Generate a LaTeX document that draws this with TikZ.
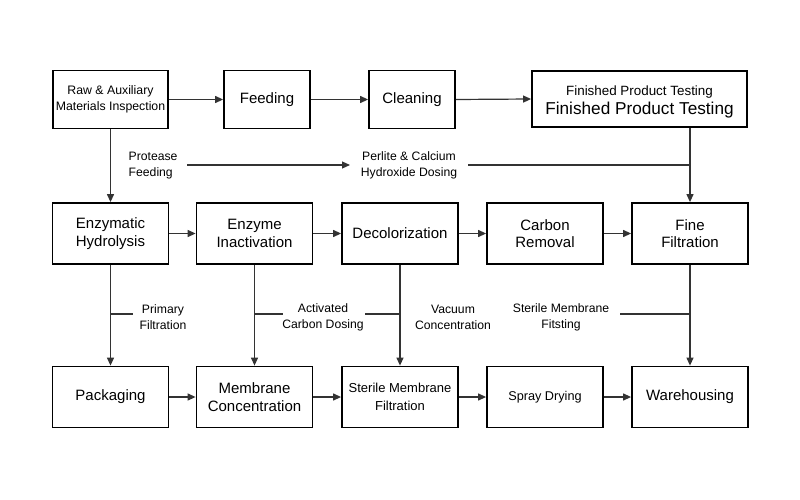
\documentclass[tikz,border=0pt]{standalone}
\usepackage{fontspec}
\setmainfont{Liberation Sans}
\usetikzlibrary{arrows.meta}
\begin{document}
\begin{tikzpicture}[x=1pt,y=-1pt,
  procbox/.style={draw=black,line width=1.8pt,rectangle,minimum width=116pt,minimum height=61pt,inner sep=2pt,align=center,font=\fontsize{15}{17.5}\selectfont},
  smallbox/.style={procbox,font=\fontsize{12.3}{16}\selectfont},
  lbl/.style={inner sep=0pt,align=center,font=\fontsize{12.2}{16}\selectfont},
  flow/.style={line width=1.2pt,draw=black!80,-{Triangle[length=8pt,width=7pt]}},
  plain/.style={line width=1.2pt,draw=black!80}]
\useasboundingbox (0,0) rectangle (800,500);
\fill[white] (0,0) rectangle (800,500);
% row 1
\node[smallbox,minimum width=115pt,minimum height=58pt] (raw) at (110.5,99.5) {Raw \& Auxiliary\\Materials Inspection};
\node[procbox,minimum width=86pt,minimum height=58pt] (feed) at (267,99.5) {Feeding};
\node[procbox,minimum width=86pt,minimum height=58pt] (clean) at (412,99.5) {Cleaning};
\node[procbox,minimum width=215pt,minimum height=56pt,font=\fontsize{17.2}{19}\selectfont] (fin) at (639.5,99) {};
\node[inner sep=0pt,align=center,font=\fontsize{17.2}{19}\selectfont] (fintxt) at (639.5,101.5) {{\fontsize{13.4}{15}\selectfont Finished Product Testing}\\Finished Product Testing};
% row 2
\node[procbox] (enz) at (110.5,233.5) {Enzymatic\\Hydrolysis};
\node[procbox] (inact) at (254.5,233.5) {Enzyme\\Inactivation};
\node[procbox] (decol) at (400,233.5) {Decolorization};
\node[procbox] (carb) at (545,233.5) {Carbon\\Removal};
\node[procbox] (fine) at (690,233.5) {Fine\\Filtration};
% row 3
\node[procbox] (pack) at (110.5,397) {Packaging};
\node[procbox] (memb) at (254.5,397) {Membrane\\Concentration};
\node[smallbox,font=\fontsize{13}{18}\selectfont] (steril) at (400,397) {Sterile Membrane\\Filtration};
\node[smallbox,font=\fontsize{12.7}{17.5}\selectfont] (spray) at (545,397) {Spray Drying};
\node[procbox] (ware) at (690,397) {Warehousing};
% labels
\node[lbl,align=left,anchor=west] (prot) at (128.5,165.5) {Protease\\Feeding};
\node[lbl] (perl) at (409,165.5) {Perlite \& Calcium\\Hydroxide Dosing};
\node[lbl] (prim) at (163,317) {Primary\\Filtration};
\node[lbl] (actc) at (323,317) {Activated\\Carbon Dosing};
\node[lbl] (vacc) at (453,317) {Vacuum\\Concentration};
\node[lbl] (sterf) at (561,317) {Sterile Membrane\\Fitsting};
% coordinates
\coordinate (pA) at (187,165);
\coordinate (pB) at (350,165);
\coordinate (pC) at (468,165);
\coordinate (pJ) at (690,165);
\coordinate (t1a) at (110.5,314);
\coordinate (t1b) at (133,314);
\coordinate (t2a) at (254.5,314);
\coordinate (t2b) at (283,314);
\coordinate (t3a) at (365,314);
\coordinate (t3b) at (400,314);
\coordinate (t4a) at (620,314);
\coordinate (t4b) at (690,314);
% row 1 arrows
\draw[flow] (raw.east) -- (feed.west);
\draw[flow] (feed.east) -- (clean.west);
\draw[flow] (clean.east) -- (fin.west);
\draw[flow] (raw.south) -- (enz.north);
\draw[flow] (fin.south -| fine.north) -- (fine.north);
\draw[flow] (pA) -- (pB);
\draw[plain] (pC) -- (pJ);
% row 2 arrows
\draw[flow] (enz.east) -- (inact.west);
\draw[flow] (inact.east) -- (decol.west);
\draw[flow] (decol.east) -- (carb.west);
\draw[flow] (carb.east) -- (fine.west);
\draw[flow] (enz.south) -- (pack.north);
\draw[flow] (inact.south) -- (memb.north);
\draw[flow] (decol.south) -- (steril.north);
\draw[flow] (fine.south) -- (ware.north);
\draw[plain] (t1a) -- (t1b);
\draw[plain] (t2a) -- (t2b);
\draw[plain] (t3a) -- (t3b);
\draw[plain] (t4a) -- (t4b);
% row 3 arrows
\draw[flow] (pack.east) -- (memb.west);
\draw[flow] (memb.east) -- (steril.west);
\draw[flow] (steril.east) -- (spray.west);
\draw[flow] (spray.east) -- (ware.west);
\end{tikzpicture}
\end{document}
